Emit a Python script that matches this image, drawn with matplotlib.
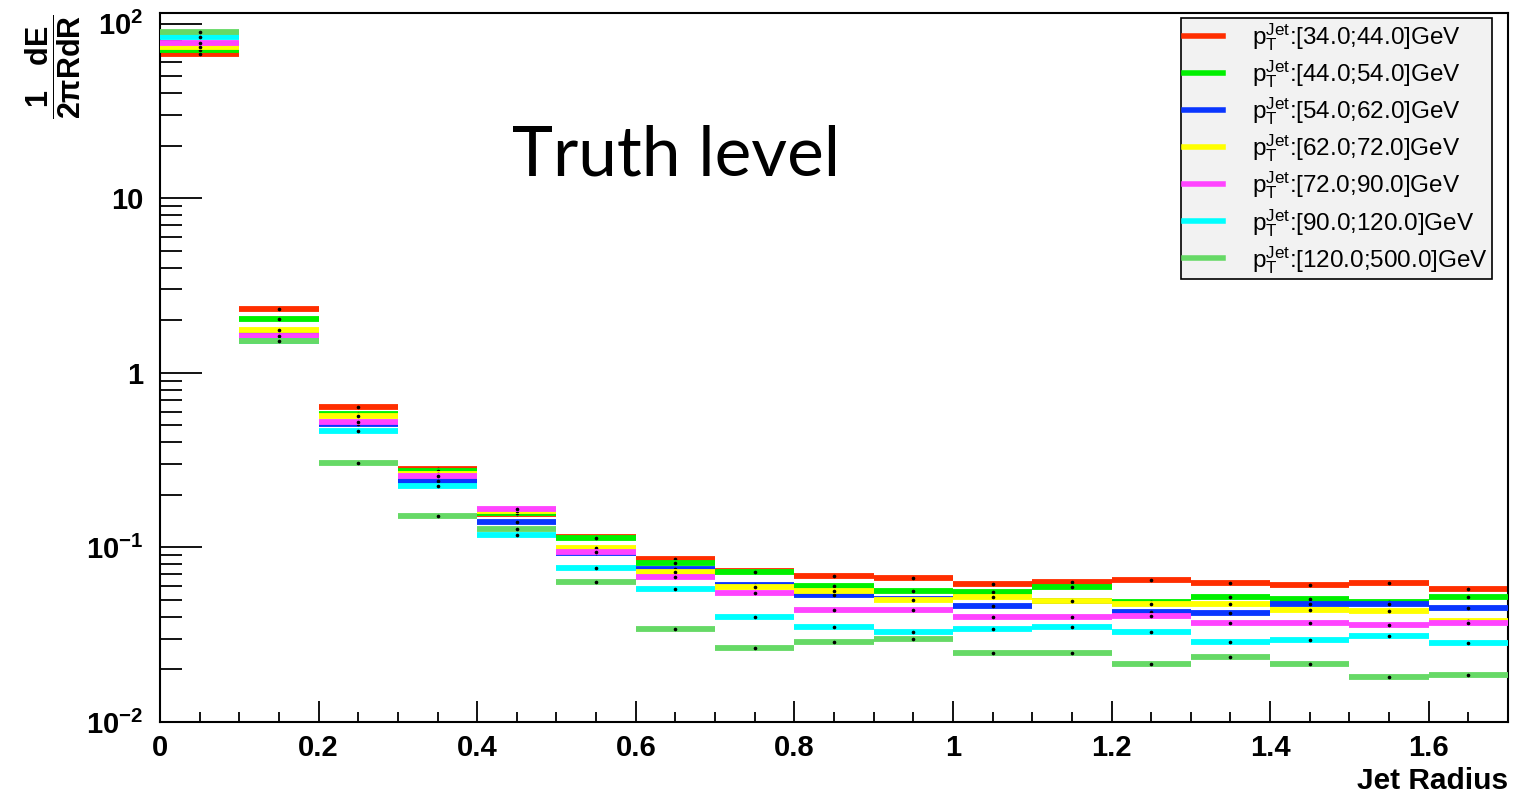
import matplotlib
matplotlib.use("Agg")
import matplotlib.pyplot as plt
import numpy as np
from matplotlib.lines import Line2D
from matplotlib.ticker import MultipleLocator, LogLocator, NullFormatter

# --- data: energy profile per jet-radius bin, one list per pT slice ---
bin_edges = [0.0, 0.1, 0.2, 0.3, 0.4, 0.5, 0.6, 0.7, 0.8, 0.9,
             1.0, 1.1, 1.2, 1.3, 1.4, 1.5, 1.6, 1.7]

pt_34_44 = [67.0, 2.31, 0.635, 0.281, 0.155, 0.114, 0.0859, 0.0736, 0.0686,
            0.0671, 0.0621, 0.0637, 0.0650, 0.0622, 0.0607, 0.0622, 0.0578]
pt_44_54 = [70.6, 2.04, 0.580, 0.274, 0.157, 0.1125, 0.0814, 0.0722, 0.0604,
            0.0563, 0.0553, 0.0590, 0.0484, 0.0523, 0.0509, 0.0484, 0.0523]
pt_54_62 = [75.4, 1.71, 0.508, 0.240, 0.140, 0.0926, 0.0756, 0.0608, 0.0535,
            0.0509, 0.0461, 0.0495, 0.0428, 0.0420, 0.0473, 0.0474, 0.0450]
pt_62_72 = [73.6, 1.75, 0.567, 0.265, 0.162, 0.0998, 0.0722, 0.0593, 0.0563,
            0.0498, 0.0523, 0.0495, 0.0474, 0.0474, 0.0440, 0.0430, 0.0377]
pt_72_90 = [77.6, 1.63, 0.521, 0.255, 0.167, 0.0946, 0.0674, 0.0550, 0.0438,
            0.0440, 0.0398, 0.0397, 0.0407, 0.0369, 0.0369, 0.0361, 0.0371]
pt_90_120 = [83.7, 1.52, 0.463, 0.225, 0.118, 0.0758, 0.0577, 0.0397, 0.0352,
             0.0327, 0.0343, 0.0350, 0.0327, 0.0289, 0.0295, 0.0311, 0.0282]
pt_120_500 = [89.4, 1.52, 0.303, 0.152, 0.127, 0.0637, 0.0343, 0.0267, 0.0289,
              0.0297, 0.0248, 0.0248, 0.0214, 0.0236, 0.0214, 0.0181, 0.0185]

series = [pt_34_44, pt_44_54, pt_54_62, pt_62_72, pt_72_90, pt_90_120, pt_120_500]
labels = [
    r"p$_{\mathregular{T}}^{\mathregular{Jet}}$:[34.0;44.0]GeV",
    r"p$_{\mathregular{T}}^{\mathregular{Jet}}$:[44.0;54.0]GeV",
    r"p$_{\mathregular{T}}^{\mathregular{Jet}}$:[54.0;62.0]GeV",
    r"p$_{\mathregular{T}}^{\mathregular{Jet}}$:[62.0;72.0]GeV",
    r"p$_{\mathregular{T}}^{\mathregular{Jet}}$:[72.0;90.0]GeV",
    r"p$_{\mathregular{T}}^{\mathregular{Jet}}$:[90.0;120.0]GeV",
    r"p$_{\mathregular{T}}^{\mathregular{Jet}}$:[120.0;500.0]GeV",
]
colors = ["#ff2e00", "#00f000", "#0a36ff", "#ffff00", "#ff44ff", "#00ffff", "#66d966"]

xticks = [0, 0.2, 0.4, 0.6, 0.8, 1.0, 1.2, 1.4, 1.6]
xticklabels = ["0", "0.2", "0.4", "0.6", "0.8", "1", "1.2", "1.4", "1.6"]
yticks = [0.01, 0.1, 1, 10, 100]
yticklabels = [r"$\mathbf{10^{-2}}$", r"$\mathbf{10^{-1}}$", "1", "10", r"$\mathbf{10^{2}}$"]

plt.rcParams["font.family"] = ["Liberation Sans", "DejaVu Sans"]
plt.rcParams["mathtext.fontset"] = "custom"
plt.rcParams["mathtext.rm"] = "Liberation Sans"
plt.rcParams["mathtext.bf"] = "Liberation Sans:bold"
plt.rcParams["mathtext.it"] = "Liberation Sans:italic"

W, H = 1516, 798
fig = plt.figure(figsize=(W / 100, H / 100), dpi=100)
ax = fig.add_axes([160 / W, 1 - 722 / H, 1348 / W, 709 / H])

edges = np.array(bin_edges)
centers = 0.5 * (edges[:-1] + edges[1:])
for i, (vals, col) in enumerate(zip(series, colors)):
    ax.hlines(vals, edges[:-1], edges[1:], colors=col, linewidth=4.2, zorder=2 + i)
    ax.plot(centers, vals, "o", color="black", markersize=1.6, zorder=2.5 + i)

ax.set_yscale("log")
ax.set_xlim(0, 1.7)
ax.set_ylim(0.01, 115)

ax.set_xticks(xticks, xticklabels, fontsize=21, fontweight="bold")
ax.xaxis.set_minor_locator(MultipleLocator(0.05))
ax.set_yticks(yticks, yticklabels, fontsize=21, fontweight="bold")
ax.yaxis.set_minor_locator(LogLocator(base=10, subs=np.arange(2, 10), numticks=20))
ax.yaxis.set_minor_formatter(NullFormatter())

ax.tick_params(axis="x", which="major", direction="in", length=15, width=1.3, pad=9)
ax.tick_params(axis="x", which="minor", direction="in", length=7, width=1.3)
ax.tick_params(axis="y", which="major", direction="in", length=30, width=1.3, pad=12)
ax.tick_params(axis="y", which="minor", direction="in", length=16, width=1.3)
for sp in ax.spines.values():
    sp.set_linewidth(1.5)

ax.set_xlabel("Jet Radius", loc="right", fontsize=21.5, fontweight="bold", labelpad=3)
fig.text(0.035, 0.982, r"$\mathbf{\dfrac{1\quad dE}{2\pi RdR}}$", rotation=90,
         ha="center", va="top", fontsize=22)

ax.text(0.261, 0.7715, "Truth level", transform=ax.transAxes, fontsize=50,
        family="Lato", ha="left", va="baseline")

handles = [Line2D([], [], color=c, linewidth=4) for c in colors]
leg = ax.legend(handles, labels, loc="upper right", bbox_to_anchor=(0.988, 0.993),
                fontsize=17.5, frameon=True, fancybox=False, edgecolor="black",
                facecolor="#f2f2f2", framealpha=1, handlelength=1.6,
                handletextpad=1.2, labelspacing=0.22, borderpad=0.15,
                borderaxespad=0)
leg.get_frame().set_linewidth(1.2)

fig.savefig("out.png", dpi=100)
